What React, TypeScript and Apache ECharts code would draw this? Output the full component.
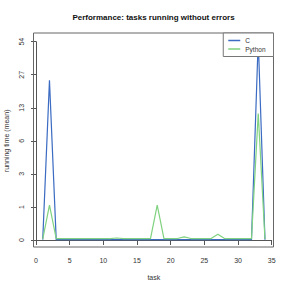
import React, { useEffect, useRef } from "react";
import * as echarts from "echarts";

// task numbers
const tasks: number[] = Array.from({ length: 34 }, (_, i) => i + 1);

// mean running time per task
const cValues: number[] = [
  0.85, 24, 0.85, 0.85, 0.85, 0.85, 0.85, 0.85, 0.85, 0.85,
  0.85, 0.85, 0.85, 0.85, 0.85, 0.85, 0.85, 0.85, 0.85, 0.85,
  0.85, 0.85, 0.85, 0.85, 0.85, 0.85, 0.85, 0.85, 0.85, 0.85,
  0.85, 0.85, 56, 0.85,
];
const pythonValues: number[] = [
  0.86, 1.75, 0.87, 0.87, 0.87, 0.87, 0.87, 0.87, 0.87, 0.87,
  0.87, 0.88, 0.87, 0.87, 0.87, 0.87, 0.87, 1.75, 0.87, 0.87,
  0.87, 0.9, 0.87, 0.87, 0.87, 0.87, 0.95, 0.87, 0.87, 0.87,
  0.87, 0.87, 12, 0.86,
];

// y tick labels (each tick is a halving of the top value)
const yTickLabels: string[] = ["0", "1", "3", "6", "13", "27", "54"];
const xTicks: number[] = [0, 5, 10, 15, 20, 25, 30, 35];
const TOP = 54;

const toPos = (v: number) => Math.log2(v / TOP) + (yTickLabels.length - 1);

const BLUE = "#3b6bc2";
const GREEN = "#7fd27f";
const FONT = "Liberation Sans";

export default function App() {
  const ref = useRef<HTMLDivElement>(null);
  useEffect(() => {
    if (!ref.current) return;
    const chart = echarts.init(ref.current, undefined, { renderer: "svg" });
    const cData = tasks.map((t, i) => [t, toPos(cValues[i])]);
    const pData = tasks.map((t, i) => [t, toPos(pythonValues[i])]);
    chart.setOption({
      animation: false,
      backgroundColor: "#fff",
      textStyle: { fontFamily: FONT },
      grid: {
        left: 36,
        right: 19.3,
        top: 41.7,
        bottom: 51,
        show: false,
        containLabel: false,
        outerBoundsMode: "none",
      },
      xAxis: {
        type: "value",
        min: xTicks[0],
        max: xTicks[xTicks.length - 1],
        interval: 5,
        offset: 7,
        name: "task",
        nameLocation: "middle",
        nameGap: 27,
        nameTextStyle: { fontSize: 7, color: "#333", fontFamily: FONT },
        axisLine: { show: true, lineStyle: { color: "#555", width: 1 } },
        axisTick: { show: true, length: 5, lineStyle: { color: "#555" } },
        axisLabel: { fontSize: 7, color: "#333", margin: 10, fontFamily: FONT },
        splitLine: { show: false },
      },
      yAxis: {
        type: "value",
        min: 0,
        max: yTickLabels.length - 1,
        interval: 1,
        offset: 2.7,
        name: "running time (mean)",
        nameLocation: "middle",
        nameGap: 22,
        nameTextStyle: { fontSize: 7, color: "#333", fontFamily: FONT },
        axisLine: { show: true, lineStyle: { color: "#555", width: 1 } },
        axisTick: { show: true, length: 5, lineStyle: { color: "#555" } },
        axisLabel: {
          fontSize: 7,
          color: "#333",
          rotate: 90,
          margin: 8.5,
          fontFamily: FONT,
          formatter: (v: number) => yTickLabels[Math.round(v)] ?? "",
        },
        splitLine: { show: false },
      },
      legend: {
        orient: "vertical",
        right: 17.5,
        top: 33,
        icon: "rect",
        itemWidth: 12,
        itemHeight: 1.5,
        itemGap: 1.5,
        padding: [4, 8, 4, 5],
        borderColor: "#777",
        borderWidth: 1,
        borderRadius: 0,
        backgroundColor: "#fff",
        textStyle: { fontSize: 6.5, color: "#333", fontFamily: FONT },
        data: ["C", "Python"],
        z: 10,
      },
      graphic: [
        {
          type: "rect",
          shape: { x: 33.5, y: 33, width: 240, height: 214 },
          style: { fill: "none", stroke: "#666", lineWidth: 1 },
          silent: true,
          z: 1,
        },
        {
          type: "text",
          x: 153.5,
          y: 17,
          style: {
            text: "Performance: tasks running without errors",
            fontSize: 8,
            fontWeight: "bold",
            fontFamily: FONT,
            fill: "#111",
            align: "center",
            verticalAlign: "middle",
          },
        },
      ],
      series: [
        {
          name: "C",
          type: "line",
          data: cData,
          showSymbol: false,
          clip: false,
          lineStyle: { color: BLUE, width: 1.2 },
          itemStyle: { color: BLUE },
          z: 2,
        },
        {
          name: "Python",
          type: "line",
          data: pData,
          showSymbol: false,
          clip: false,
          lineStyle: { color: GREEN, width: 1.2 },
          itemStyle: { color: GREEN },
          z: 3,
        },
      ],
    });
    return () => chart.dispose();
  }, []);
  return <div ref={ref} style={{ width: 291, height: 291, position: "absolute", left: 0, top: 0 }} />;
}
